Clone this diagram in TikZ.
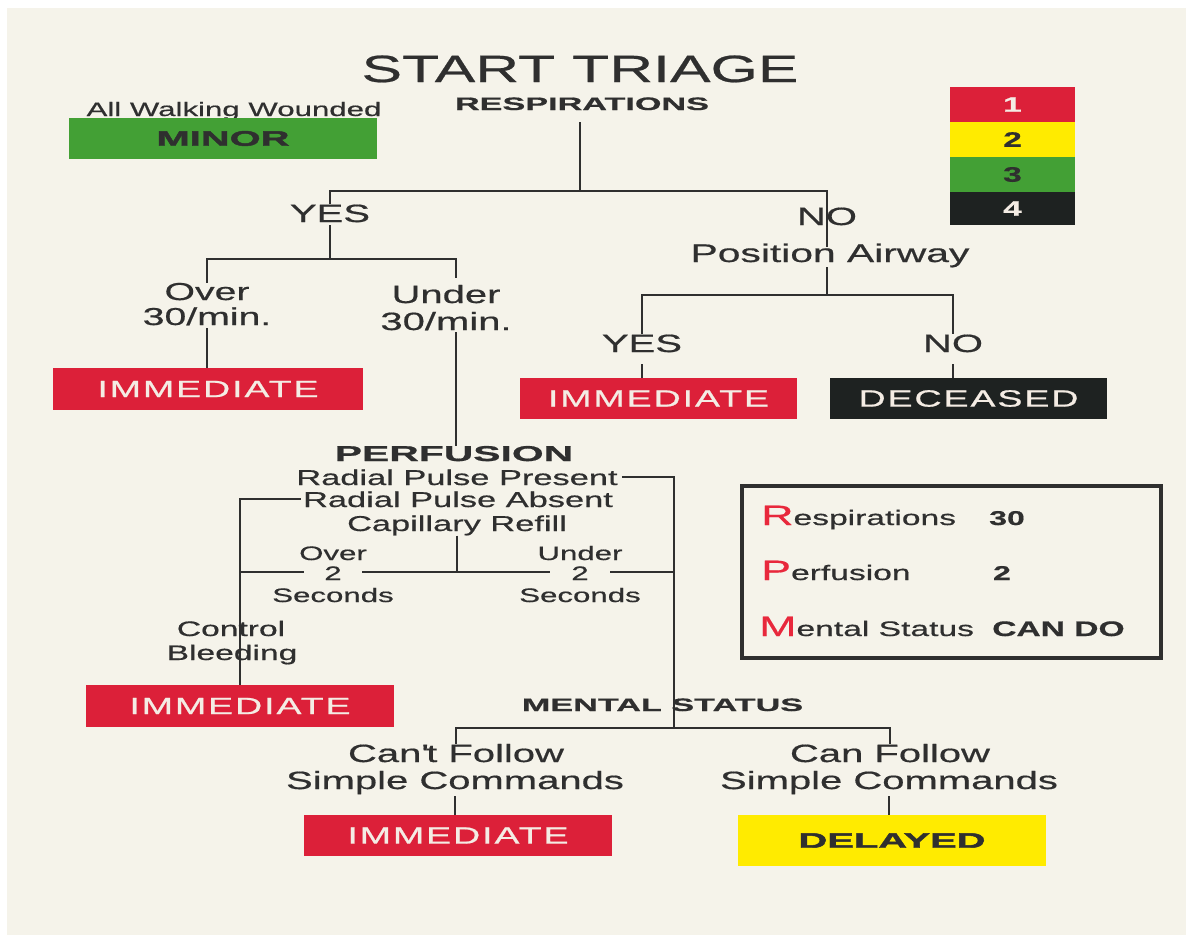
\documentclass[tikz,border=0pt]{standalone}
\usepackage{fontspec}
\setmainfont[FakeStretch=1.6,FakeBold=0.6]{Liberation Sans}
\newfontfamily\heavyf[FakeStretch=1.9,BoldFeatures={FakeBold=0.8}]{Liberation Sans}
\newfontfamily\blackf[FakeStretch=1.9,BoldFeatures={FakeBold=2.2}]{Liberation Sans}
\newfontfamily\boxf[FakeStretch=1.6,LetterSpace=8,FakeBold=0.8]{Liberation Sans}
\newcommand\fsz[1]{\fontsize{#1}{#1}\selectfont}
\definecolor{paper}{HTML}{F5F3EA}
\definecolor{ink}{HTML}{2F2F2F}
\definecolor{tred}{HTML}{DC2039}
\definecolor{tyel}{HTML}{FFEB00}
\definecolor{tgrn}{HTML}{43A035}
\definecolor{tblk}{HTML}{1E2221}
\definecolor{boxtxt}{HTML}{F4ECE4}
\definecolor{initred}{HTML}{E8283C}
\tikzset{
  ln/.style={draw=ink, line width=2pt},
  t/.style={inner sep=0pt, text=ink, anchor=base},
  catbox/.style={inner sep=0pt, minimum width=#1},
  redbox/.style={catbox=#1, fill=tred, text=boxtxt, font=\boxf\fsz{23.5}},
  cell/.style={inner sep=0pt, minimum width=125pt, minimum height=35pt, font=\bfseries\fsz{21}},
  gap/.style={t, fill=paper, inner xsep=#1, inner ysep=1pt, font=\fsz{19.5}}
}
\begin{document}
\begin{tikzpicture}[x=1pt,y=-1pt]
\useasboundingbox (0,0) rectangle (1198,943);
\fill[white] (0,0) rectangle (1198,943);
\fill[paper] (7,8) rectangle (1186,935);

% title and header
\node[t] (title) at (580,82) {\fsz{38}START TRIAGE};
\node[t] (resp) at (582,110) {\heavyf\bfseries\fsz{18}RESPIRATIONS};
\node[t] (walk) at (234,116) {\fsz{19.5}All Walking Wounded};
\node[catbox=308pt, minimum height=41pt, fill=tgrn, text=ink] (minor) at (223,138.5) {\blackf\bfseries\fsz{21}MINOR};

% legend
\node[cell, fill=tred, text=boxtxt] (l1) at (1012.5,104.5) {1};
\node[cell, fill=tyel, text=ink] (l2) at (1012.5,139.5) {2};
\node[cell, fill=tgrn, text=ink] (l3) at (1012.5,174.5) {3};
\node[cell, fill=tblk, text=boxtxt, minimum height=33pt] (l4) at (1012.5,208.5) {4};

% respirations branch
\node[t] (yes1) at (330,222) {\fsz{25}YES};
\node[t] (no1) at (827,225) {\fsz{25}NO};
\node[t] (pos) at (830,262) {\fsz{25.5}Position Airway};
\node[t] (overa) at (207,300) {\fsz{24.5}Over};
\node[t] (overb) at (207,325) {\fsz{24.5}30/min.};
\node[t] (undera) at (446,303) {\fsz{25}Under};
\node[t] (underb) at (446,330) {\fsz{25}30/min.};
\node[redbox=310pt, minimum height=42pt] (imm1) at (208,389) {IMMEDIATE};
\node[t] (yes2) at (642,352) {\fsz{25}YES};
\node[t] (no2) at (953,352) {\fsz{25}NO};
\node[redbox=277pt, minimum height=41pt] (imm2) at (658.5,398.5) {IMMEDIATE};
\node[catbox=277pt, minimum height=41pt, fill=tblk, text=boxtxt, font=\boxf\fsz{23.5}] (dec) at (968.5,398.5) {DECEASED};

% perfusion
\node[t] (perf) at (454,461) {\heavyf\bfseries\fsz{21.5}PERFUSION};
\node[t] (rpp) at (457,485) {\fsz{21.5}Radial Pulse Present};
\node[t] (rpa) at (458,507) {\fsz{21.5}Radial Pulse Absent};
\node[t] (capr) at (457,531) {\fsz{21.5}Capillary Refill};
\node[t] (overc) at (333,560) {\fsz{19.5}Over};
\node[t] (seca) at (333,602) {\fsz{19.5}Seconds};
\node[t] (underc) at (580,560) {\fsz{19.5}Under};
\node[t] (secb) at (580,602) {\fsz{19.5}Seconds};
\node[t] (ctla) at (231,636) {\fsz{21}Control};
\node[t] (ctlb) at (232,660) {\fsz{21}Bleeding};
\node[redbox=308pt, minimum height=42pt] (imm3) at (240,706) {IMMEDIATE};

% mental status
\node[t] (mental) at (662.5,711) {\heavyf\bfseries\fsz{18}MENTAL STATUS};
\node[t] (canta) at (456,762) {\fsz{25}Can\textquotesingle t Follow};
\node[t] (cantb) at (455,789) {\fsz{25}Simple Commands};
\node[t] (cana) at (890,762) {\fsz{25}Can Follow};
\node[t] (canb) at (889,789) {\fsz{25}Simple Commands};
\node[redbox=308pt, minimum height=41pt] (imm4) at (458,835.5) {IMMEDIATE};
\node[catbox=308pt, minimum height=51pt, fill=tyel, text=ink] (delayed) at (892,840.5) {\blackf\bfseries\fsz{21}DELAYED};

% RPM box
\node[draw=ink, line width=4pt, minimum width=419pt, minimum height=172pt, inner sep=0pt] (rpm) at (951.5,572) {};
\node[t, anchor=base west] (rr) at (761,525) {\textcolor{initred}{\fsz{28}R}\fsz{21}espirations};
\node[t] (r30) at (1007,525) {\bfseries\fsz{20}30};
\node[t, anchor=base west] (pp) at (761,580) {\textcolor{initred}{\fsz{28}P}\fsz{21}erfusion};
\node[t] (p2) at (1002,580) {\bfseries\fsz{20}2};
\node[t, anchor=base west] (mm) at (759,636) {\textcolor{initred}{\fsz{28}M}\fsz{21}ental Status};
\node[t, anchor=base west] (cando) at (992,636) {\bfseries\fsz{21}CAN DO};

% junction coordinates
\coordinate (h1) at (580,191);
\coordinate (nx) at (827,247);
\coordinate (h2) at (330,259);
\coordinate (ut) at (456,278);
\coordinate (ub) at (456,332);
\coordinate (h3) at (827,295);
\coordinate (hL) at (240,572);
\coordinate (hR) at (674,572);
\coordinate (h5) at (674,728);

% connectors
\draw[ln, shorten <=12pt] (resp.south -| h1) -- (h1);
\draw[ln] (yes1.north) |- (h1) -| (nx);
\draw[ln, shorten <=3pt] (yes1.south) -- (h2);
\draw[ln] (overa.north) |- (h2) -| (ut);
\draw[ln, shorten <=3pt] (overb.south) -- (overb.south |- imm1.north);
\draw[ln] (ub) -- (ub |- perf.north);
\draw[ln] (pos.south -| nx) -- (h3);
\draw[ln] (yes2.north) |- (h3) -| (no2.north);
\draw[ln, shorten <=12pt] (yes2.south) -- (yes2.south |- imm2.north);
\draw[ln, shorten <=12pt] (no2.south) -- (no2.south |- dec.north);
\draw[ln, shorten <=4pt] (rpp.east) -| (h5);
\draw[ln, shorten <=2pt] (rpa.west) -| (imm3.north);
\draw[ln] (hL) -- (hR);
\draw[ln] (capr.south) -- (capr.south |- hL);
\draw[ln] (canta.north) |- (h5) -| (cana.north);
\draw[ln, shorten <=2pt] (cantb.south) -- (cantb.south |- imm4.north);
\draw[ln, shorten <=2pt] (canb.south) -- (canb.south |- delayed.north);

% the "2" labels break the horizontal line
\node[gap=20pt] (twoa) at (333,580) {2};
\node[gap=21pt] (twob) at (580,580) {2};
\end{tikzpicture}
\end{document}
